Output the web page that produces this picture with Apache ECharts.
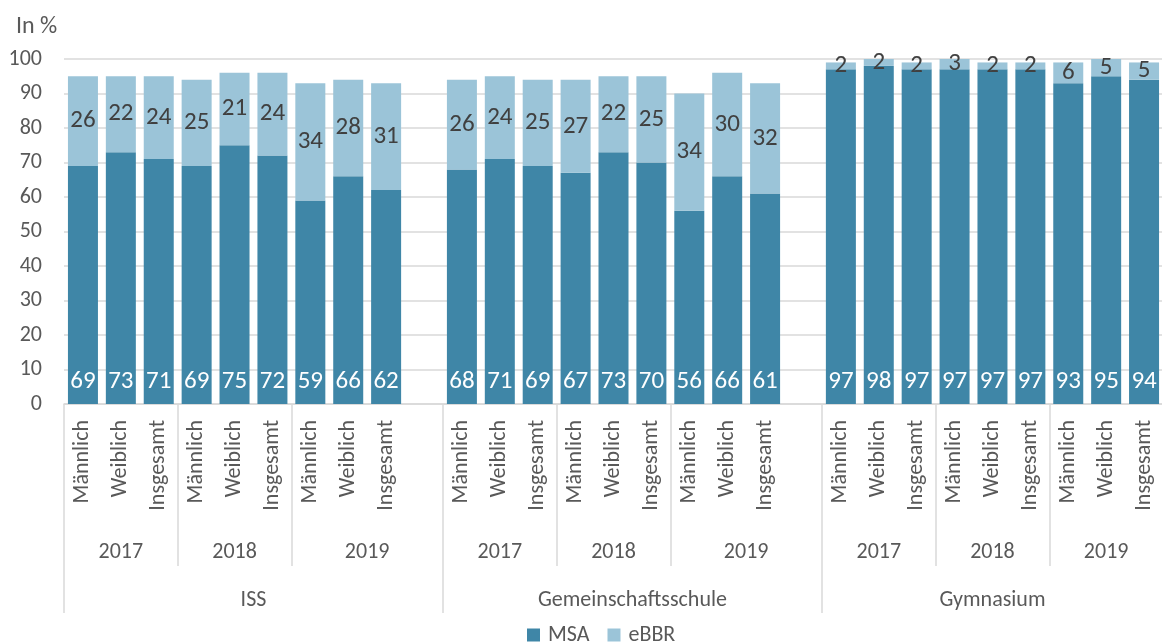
<!DOCTYPE html>
<html><head><meta charset="utf-8">
<script src="https://cdn.jsdelivr.net/npm/echarts@6/dist/echarts.min.js"></script>
<style>html,body{margin:0;padding:0;overflow:hidden;background:#fff}#c{width:1166px;height:644px}</style>
</head><body><div id="c"></div>
<script>
const groups = ['ISS', 'Gemeinschaftsschule', 'Gymnasium'];
const years = ['2017', '2018', '2019'];
const sexes = ['Männlich', 'Weiblich', 'Insgesamt'];
const seriesNames = ['MSA', 'eBBR'];
const msaISS = [69, 73, 71, 69, 75, 72, 59, 66, 62];
const msaGem = [68, 71, 69, 67, 73, 70, 56, 66, 61];
const msaGym = [97, 98, 97, 97, 97, 97, 93, 95, 94];
const ebbrISS = [26, 22, 24, 25, 21, 24, 34, 28, 31];
const ebbrGem = [26, 24, 25, 27, 22, 25, 34, 30, 32];
const ebbrGym = [2, 2, 2, 3, 2, 2, 6, 5, 5];

const msaByGroup = [msaISS, msaGem, msaGym];
const ebbrByGroup = [ebbrISS, ebbrGem, ebbrGym];
const cats = [], msa = [], ebbr = [];
const yearSpans = [], groupSpans = [];
let slot = 0;
groups.forEach((g, gi) => {
  const gStart = slot;
  years.forEach((y, yi) => {
    const yStart = slot;
    sexes.forEach((s, si) => {
      cats.push(s);
      msa.push(msaByGroup[gi][yi * sexes.length + si]);
      ebbr.push(ebbrByGroup[gi][yi * sexes.length + si]);
      slot++;
    });
    if (yi === years.length - 1 && gi < groups.length - 1) {
      cats.push(''); msa.push('-'); ebbr.push('-'); slot++;
    }
    yearSpans.push({ label: y, start: yStart, end: slot });
  });
  groupSpans.push({ label: g, start: gStart, end: slot });
});
const N = slot;
const HN = 2 * N + 1;
const yearLabels = Array(HN).fill('');
const groupLabels = Array(HN).fill('');
yearSpans.forEach(s => { yearLabels[s.start + s.end] = s.label; });
groupSpans.forEach(s => { groupLabels[s.start + s.end] = s.label; });
const yearTicks = new Set(), groupTicks = new Set();
yearSpans.forEach(s => { yearTicks.add(2 * s.start); yearTicks.add(2 * s.end); });
groupSpans.forEach(s => { groupTicks.add(2 * s.start); groupTicks.add(2 * s.end); });

const FONT = 'Carlito, Lato, sans-serif';
const TXT = '#595959';
const GRID = '#D9D9D9';

const chart = echarts.init(document.getElementById('c'), null, { renderer: 'canvas' });
chart.setOption({
  animation: false,
  textStyle: { fontFamily: FONT },
  title: { text: 'In %', left: 11, top: 10, textStyle: { fontSize: 24, fontWeight: 'normal', color: TXT, fontFamily: FONT } },
  legend: {
    data: seriesNames, left: 522, top: 619, icon: 'rect', itemWidth: 13, itemHeight: 13, itemGap: 18,
    textStyle: { fontSize: 22, color: TXT, fontFamily: FONT, padding: [0, 0, 0, 3] }
  },
  grid: { left: 64, right: 0, top: 59, bottom: 240, containLabel: false },
  xAxis: [
    {
      type: 'category', data: cats, gridIndex: 0, position: 'bottom',
      axisLine: { show: true, lineStyle: { color: GRID, width: 1.5 } },
      axisTick: { show: false },
      axisLabel: { interval: 0, rotate: 90, margin: 16, fontSize: 22, color: TXT, fontFamily: FONT }
    },
    {
      type: 'category', data: yearLabels, gridIndex: 0, position: 'bottom', boundaryGap: false,
      axisLine: { show: false },
      axisTick: { show: true, length: 162, interval: (i) => yearTicks.has(i), lineStyle: { color: GRID, width: 1.5 } },
      axisLabel: { interval: 0, margin: 137, fontSize: 22, color: TXT, fontFamily: FONT },
      splitLine: { show: false }
    },
    {
      type: 'category', data: groupLabels, gridIndex: 0, position: 'bottom', boundaryGap: false,
      axisLine: { show: false },
      axisTick: { show: true, length: 209, interval: (i) => groupTicks.has(i), lineStyle: { color: GRID, width: 1.5 } },
      axisLabel: { interval: 0, margin: 185, fontSize: 22, color: TXT, fontFamily: FONT },
      splitLine: { show: false }
    }
  ],
  yAxis: {
    type: 'value', min: 0, max: 100, interval: 10,
    axisLine: { show: false }, axisTick: { show: false },
    axisLabel: { margin: 22, fontSize: 22, color: TXT, fontFamily: FONT },
    splitLine: { lineStyle: { color: GRID, width: 1.5 } }
  },
  series: [
    {
      name: seriesNames[0], type: 'bar', stack: 'total', xAxisIndex: 0, data: msa, barWidth: 30,
      itemStyle: { color: '#3F86A7' },
      label: { show: true, position: 'insideBottom', distance: 10, fontSize: 25, color: '#FFFFFF', fontFamily: FONT }
    },
    {
      name: seriesNames[1], type: 'bar', stack: 'total', xAxisIndex: 0, data: ebbr, barWidth: 30,
      itemStyle: { color: '#9BC4D8' },
      label: { show: true, position: 'inside', fontSize: 25, color: '#404040', fontFamily: FONT }
    }
  ]
});
</script></body></html>
